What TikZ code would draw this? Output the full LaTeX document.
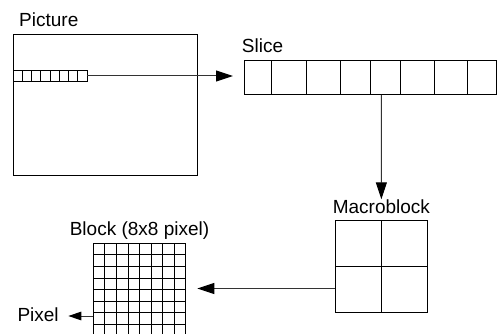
\documentclass[tikz,border=0pt]{standalone}
\usepackage{fontspec}
\setmainfont{Liberation Sans}
\usetikzlibrary{arrows.meta}
\begin{document}
\begin{tikzpicture}[x=1pt,y=-1pt,
  box/.style={draw=black,line width=1pt,inner sep=0pt,outer sep=0pt,anchor=north west},
  gridline/.style={draw=black,line width=0.9pt},
  lbl/.style={inner sep=0pt,font=\fontsize{19}{22}\selectfont},
  conn/.style={draw=black!80,line width=1pt},
  bigtip/.style={-{Triangle[length=17pt,width=11pt,fill=black,color=black]}},
  smalltip/.style={-{Triangle[length=13pt,width=8.5pt,fill=black,color=black]}}]
\useasboundingbox (0,0) rectangle (497,334);

% Picture
\node[box,minimum width=184pt,minimum height=140pt] (pic) at (13,35) {};
\node[lbl,anchor=base west] (piclbl) at (19,26.7) {Picture};
\node[box,minimum width=74pt,minimum height=11pt] (strip) at (13,70.5) {};
\foreach \i in {1,...,7}
  \draw[gridline] ([xshift=\i*9.25pt]strip.north west) -- ([xshift=\i*9.25pt]strip.south west);

% Slice
\node[box,minimum width=252.2pt,minimum height=34.3pt] (slice) at (244,60.7) {};
\node[lbl,anchor=base west] (slicelbl) at (241.7,53) {Slice};
\foreach \d in {27.7,62.7,96,126,156.7,190.3,223.3}
  \draw[gridline] ([xshift=\d pt]slice.north west) -- ([xshift=\d pt]slice.south west);

\draw[conn,bigtip,shorten >=11pt] (strip.east) -- (strip.east -| slice.west);

% Macroblock
\node[box,minimum width=92.7pt,minimum height=92pt] (mb) at (335,220) {};
\draw[gridline] (mb.north) -- (mb.south);
\draw[gridline] (mb.west) -- (mb.east);
\node[lbl,anchor=base] (mblbl) at (381.35,213.3) {Macroblock};
\draw[conn,bigtip] (slice.south -| mb.north) -- (mblbl.north);

% Block
\node[box,minimum width=92.4pt,minimum height=92.4pt] (blk) at (93.3,243.3) {};
\foreach \i in {1,...,7}{
  \draw[gridline] ([xshift=\i*11.55pt]blk.north west) -- ([xshift=\i*11.55pt]blk.south west);
  \draw[gridline] ([yshift=-\i*11.55pt]blk.north west) -- ([yshift=-\i*11.55pt]blk.north east);
}
\node[lbl,anchor=base] (blklbl) at (139.5,235) {Block (8x8 pixel)};

\coordinate (blktip) at (197.3,288.5);
\draw[conn,bigtip] (blktip -| mb.west) -- (blktip);

% Pixel
\node[lbl,anchor=base west] (pixlbl) at (17.3,321.7) {Pixel};
\coordinate (pixtip) at (68.3,316);
\draw[conn,smalltip] (pixtip -| blk.west) -- (pixtip);
\end{tikzpicture}
\end{document}
